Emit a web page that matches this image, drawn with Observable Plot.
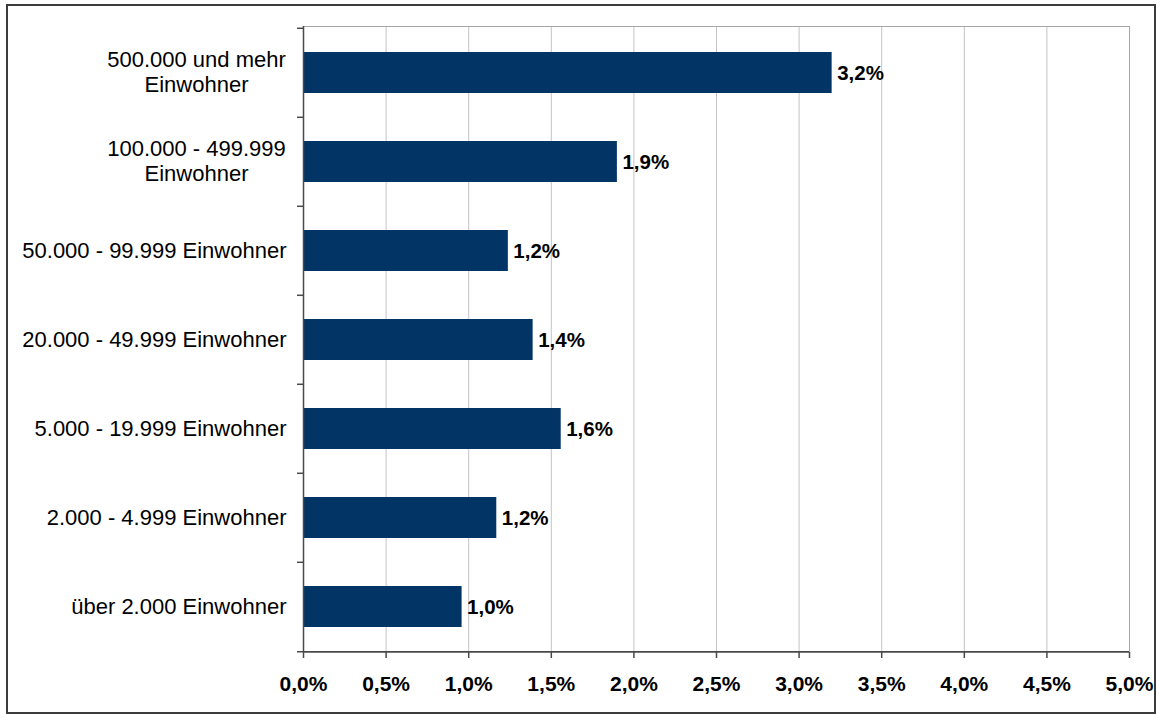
<!DOCTYPE html>
<html>
<head>
<meta charset="utf-8">
<script src="https://cdn.jsdelivr.net/npm/d3@7"></script>
<script src="https://cdn.jsdelivr.net/npm/@observablehq/plot@0.6"></script>
<style>
  html, body { margin: 0; padding: 0; background: #fff; }
  #wrap { position: relative; width: 1157px; height: 714px; }
  #border { position: absolute; left: 6px; top: 4px; width: 1146px; height: 706px; border: 2px solid #3c3c3c; pointer-events: none; }
  svg { font-family: "Liberation Sans", Arial, sans-serif; }
</style>
</head>
<body>
<div id="wrap"><div id="border"></div></div>
<script>
const categories = [
  "500.000 und mehr\nEinwohner",
  "100.000 - 499.999\nEinwohner",
  "50.000 - 99.999 Einwohner",
  "20.000 - 49.999 Einwohner",
  "5.000 - 19.999 Einwohner",
  "2.000 - 4.999 Einwohner",
  "über 2.000 Einwohner"
];
const values = [3.20, 1.90, 1.24, 1.39, 1.56, 1.17, 0.96];
const xTicks = [0, 0.5, 1, 1.5, 2, 2.5, 3, 3.5, 4, 4.5, 5];

const data = categories.map((c, i) => ({category: c, value: values[i]}));
const fmt = v => v.toFixed(1).replace(".", ",") + "%";

const width = 1157, height = 714;
const marginTop = 26, marginBottom = 62, marginLeft = 303, marginRight = 28;
const step = (height - marginTop - marginBottom) / categories.length;
const axisColor = "#4a4a4a";
const multi = categories.filter(c => c.includes("\n"));
const single = categories.filter(c => !c.includes("\n"));

const chart = Plot.plot({
  width, height, marginTop, marginBottom, marginLeft, marginRight,
  style: {fontFamily: "'Liberation Sans', Arial, sans-serif", background: "transparent", overflow: "visible"},
  x: {domain: [0, 5]},
  y: {domain: categories, paddingInner: 0.54, paddingOuter: 0.27, axis: null},
  marks: [
    Plot.gridX(xTicks, {stroke: "#c4c4c4", strokeOpacity: 1, strokeWidth: 1}),
    Plot.frame({stroke: "#a6a6a6", strokeWidth: 1}),
    Plot.barX(data, {x: "value", y: "category", fill: "#033466"}),
    Plot.text(data, {x: "value", y: "category", text: d => fmt(d.value), dx: 5, textAnchor: "start", fontWeight: "bold", fontSize: 20.5, fill: "#000"}),
    Plot.ruleX([0], {stroke: axisColor, strokeWidth: 1.5}),
    Plot.ruleY(categories, {y: d => d, x1: 0, x2: 0, insetLeft: -6, dy: -step / 2, stroke: axisColor, strokeWidth: 1.5}),
    Plot.ruleY(categories.slice(-1), {y: d => d, x1: 0, x2: 5, insetLeft: -6, dy: step / 2, stroke: axisColor, strokeWidth: 1.5}),
    Plot.axisX(xTicks, {tickSize: 6, tickPadding: 18, stroke: axisColor, strokeWidth: 1.5, tickFormat: fmt, fontWeight: "bold", fontSize: 21, fill: "#000", label: null}),
    Plot.text(single, {y: d => d, frameAnchor: "left", dx: -17, textAnchor: "end", fontSize: 22, fill: "#000"}),
    Plot.text(multi, {y: d => d, frameAnchor: "left", dx: -107, dy: -1.5, textAnchor: "middle", fontSize: 22, lineHeight: 1.14, fill: "#000"})
  ]
});
document.getElementById("wrap").prepend(chart);
chart.style.position = "absolute";
chart.style.left = "0px";
chart.style.top = "0px";
</script>
</body>
</html>
